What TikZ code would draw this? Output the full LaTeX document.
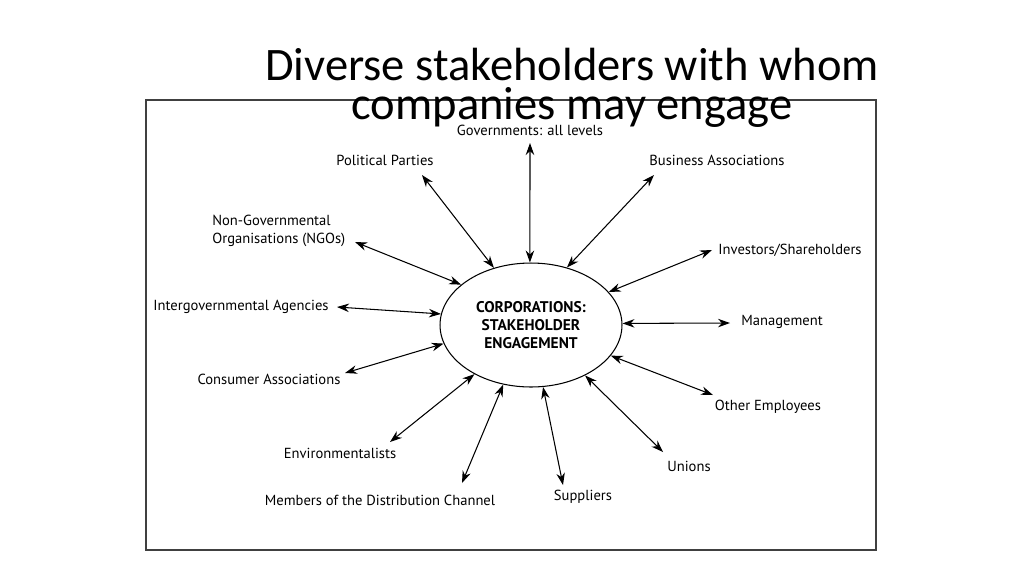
\documentclass[tikz,border=0pt]{standalone}
\usepackage{fontspec}
\setmainfont{PT Sans}
\newfontfamily\titlefont{Carlito}
\usetikzlibrary{arrows.meta,shapes.geometric}
\tikzset{
  party/.style={inner sep=0pt, font=\fontsize{8.3}{10}\selectfont},
  link/.style={{Stealth[length=2.4mm,width=1.7mm]}-{Stealth[length=2.4mm,width=1.7mm]}, line width=0.6pt},
}
\begin{document}
\begin{tikzpicture}[x=0.02cm, y=-0.02cm]
\useasboundingbox (0, 0) rectangle (1024, 576);
\draw[line width=0.7pt, black!75] (146, 100) rectangle (876, 550);

\node(title) at (572, 88) [align=center, inner sep=0pt, font=\titlefont\fontsize{26.5}{22.5}\selectfont] {Diverse stakeholders with whom\\companies may engage};

\node(core) at (531, 325) [ellipse, draw, line width=0.6pt, minimum width=3.64cm, minimum height=2.48cm, inner sep=0pt, align=center, font=\bfseries\fontsize{8.8}{10.2}\selectfont] {CORPORATIONS:\\STAKEHOLDER\\ENGAGEMENT};

\node(gov) at (530, 130) [party] {Governments: all levels};
\node(parties) at (385, 160) [party] {Political Parties};
\node(business) at (717, 160) [party] {Business Associations};
\node(ngo) at (212, 231) [party, anchor=west, align=left] {Non-Governmental\\Organisations (NGOs)};
\node(investors) at (790, 250) [party] {Investors/Shareholders};
\node(intergov) at (241, 307) [party] {Intergovernmental Agencies};
\node(management) at (782, 322) [party] {Management};
\node(consumer) at (269, 379) [party] {Consumer Associations};
\node(employees) at (768, 407) [party] {Other Employees};
\node(environ) at (340, 453) [party] {Environmentalists};
\node(unions) at (689, 466) [party] {Unions};
\node(channel) at (380, 500) [party] {Members of the Distribution Channel};
\node(suppliers) at (583, 497) [party] {Suppliers};

\coordinate(gov-end) at (530, 143);
\coordinate(parties-end) at (422, 175);
\coordinate(business-end) at (654, 175);
\coordinate(ngo-end) at (355, 242);
\coordinate(investors-end) at (712, 250);
\coordinate(intergov-end) at (337, 307);
\coordinate(management-end) at (730, 323);
\coordinate(consumer-end) at (345, 373);
\coordinate(employees-end) at (713, 395);
\coordinate(environ-end) at (390, 442);
\coordinate(unions-end) at (663, 452);
\coordinate(channel-end) at (462, 483);
\coordinate(suppliers-end) at (563, 485);

\draw[link] (core.91) -- (gov-end);
\draw[link] (core.123) -- (parties-end);
\draw[link] (core.58) -- (business-end);
\draw[link] (core.150) -- (ngo-end);
\draw[link] (core.23) -- (investors-end);
\draw[link] (core.173) -- (intergov-end);
\draw[link] (core.1) -- (management-end);
\draw[link] (core.-168) -- (consumer-end);
\draw[link] (core.-21) -- (employees-end);
\draw[link] (core.-139) -- (environ-end);
\draw[link] (core.-43) -- (unions-end);
\draw[link] (core.-115) -- (channel-end);
\draw[link] (core.-79) -- (suppliers-end);

\end{tikzpicture}
\end{document}
